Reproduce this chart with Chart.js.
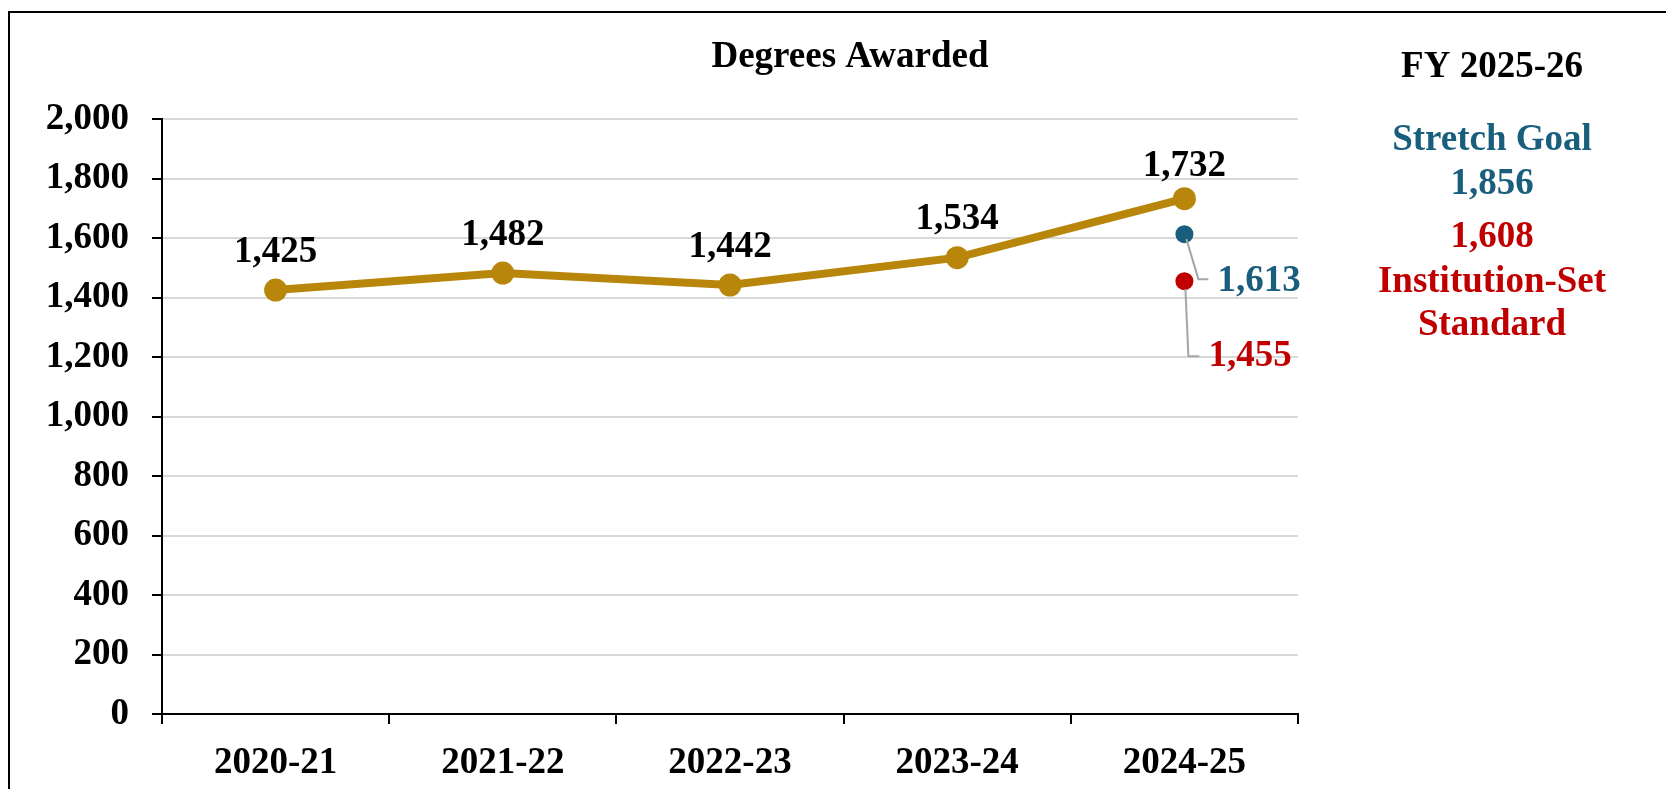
<!DOCTYPE html>
<html lang="en">
<head>
    <meta charset="UTF-8">
    <title>Degrees Awarded</title>
    <script src="https://cdn.jsdelivr.net/npm/chart.js"></script>
    <style>
        body {
            margin: 0;
            background: white;
            overflow: hidden;
        }
    </style>
</head>
<body>
    <canvas id="myChart" width="1666" height="789"></canvas>

    <script>
        // data
        const years = ['2020-21', '2021-22', '2022-23', '2023-24', '2024-25'];
        const degrees = [1425, 1482, 1442, 1534, 1732];
        const stretchGoal = [null, null, null, null, 1613];
        const instStandard = [null, null, null, null, 1455];
        const yTicks = [0, 200, 400, 600, 800, 1000, 1200, 1400, 1600, 1800, 2000];
        const nextStretch = 1856;
        const nextStandard = 1608;

        const GOLD = '#B8860B';
        const BLUE = '#1A5E7E';
        const RED = '#C00000';
        const FONT = 'bold 37px "Liberation Serif", "Times New Roman", serif';
        const fmt = v => v.toLocaleString('en-US');

        // how far each gold label sits above its dot
        const labelLift = [38, 38, 38, 38, 32];

        const extras = {
            id: 'extras',
            afterDraw(chart) {
                const c = chart.ctx;
                c.save();

                // outer frame
                c.strokeStyle = '#000';
                c.lineWidth = 2;
                c.strokeRect(9, 12, 1700, 800);

                c.font = FONT;
                c.textAlign = 'center';
                c.textBaseline = 'middle';
                c.fillStyle = '#000';
                c.fillText('Degrees Awarded', 850, 57);

                // right hand panel
                const px = 1492;
                c.fillText('FY 2025-26', px, 67);
                c.fillStyle = BLUE;
                c.fillText('Stretch Goal', px, 140);
                c.fillText(fmt(nextStretch), px, 184);
                c.fillStyle = RED;
                c.fillText(fmt(nextStandard), px, 237);
                c.fillText('Institution-Set', px, 282);
                c.fillText('Standard', px, 325);

                // value labels over the gold line
                c.fillStyle = '#000';
                chart.getDatasetMeta(0).data.forEach((pt, i) => {
                    c.fillText(fmt(degrees[i]), pt.x, pt.y - labelLift[i]);
                });

                // leader lines + labels for the two goal dots
                c.strokeStyle = '#A6A6A6';
                c.lineWidth = 2;
                c.textAlign = 'left';

                const s = chart.getDatasetMeta(1).data[4];
                c.beginPath();
                c.moveTo(s.x + 2, s.y + 5);
                c.lineTo(s.x + 14, s.y + 45);
                c.lineTo(s.x + 24, s.y + 45);
                c.stroke();
                c.fillStyle = BLUE;
                c.fillText(fmt(stretchGoal[4]), s.x + 33, s.y + 47);

                const r = chart.getDatasetMeta(2).data[4];
                c.beginPath();
                c.moveTo(r.x + 1, r.y + 8);
                c.lineTo(r.x + 4, r.y + 75);
                c.lineTo(r.x + 15, r.y + 75);
                c.stroke();
                c.fillStyle = RED;
                c.fillText(fmt(instStandard[4]), r.x + 24, r.y + 75);

                c.restore();
            }
        };

        const ctx = document.getElementById('myChart').getContext('2d');
        const myChart = new Chart(ctx, {
            type: 'line',
            data: {
                labels: years,
                datasets: [{
                    label: 'Degrees Awarded',
                    data: degrees,
                    borderColor: GOLD,
                    backgroundColor: GOLD,
                    borderWidth: 8,
                    pointRadius: 11.5,
                    pointBorderWidth: 0,
                    pointBackgroundColor: GOLD
                }, {
                    label: 'Stretch Goal',
                    data: stretchGoal,
                    showLine: false,
                    pointRadius: 9,
                    pointBorderWidth: 0,
                    pointBackgroundColor: BLUE
                }, {
                    label: 'Institution-Set Standard',
                    data: instStandard,
                    showLine: false,
                    pointRadius: 9,
                    pointBorderWidth: 0,
                    pointBackgroundColor: RED
                }]
            },
            options: {
                responsive: false,
                animation: false,
                layout: {
                    padding: { left: 0, top: 119, right: 368, bottom: 0 }
                },
                scales: {
                    x: {
                        offset: true,
                        grid: {
                            offset: true,
                            drawOnChartArea: false,
                            tickLength: 10,
                            tickColor: '#000',
                            lineWidth: 2
                        },
                        border: { color: '#000', width: 2 },
                        ticks: {
                            color: '#000',
                            font: { family: '"Liberation Serif", serif', size: 37, weight: 'bold' },
                            padding: 17,
                            maxRotation: 0
                        },
                        afterFit(scale) { scale.height = 75; }
                    },
                    y: {
                        min: 0,
                        max: 2000,
                        afterBuildTicks(scale) {
                            scale.ticks = yTicks.map(v => ({ value: v }));
                        },
                        grid: {
                            color: '#D9D9D9',
                            lineWidth: 2,
                            tickLength: 10,
                            tickColor: '#000'
                        },
                        border: { color: '#000', width: 2 },
                        ticks: {
                            color: '#000',
                            font: { family: '"Liberation Serif", serif', size: 37, weight: 'bold' },
                            padding: 23,
                            callback: v => fmt(v)
                        },
                        afterFit(scale) { scale.width = 162; }
                    }
                },
                plugins: {
                    legend: { display: false },
                    tooltip: { enabled: false }
                }
            },
            plugins: [extras]
        });
    </script>
</body>
</html>
